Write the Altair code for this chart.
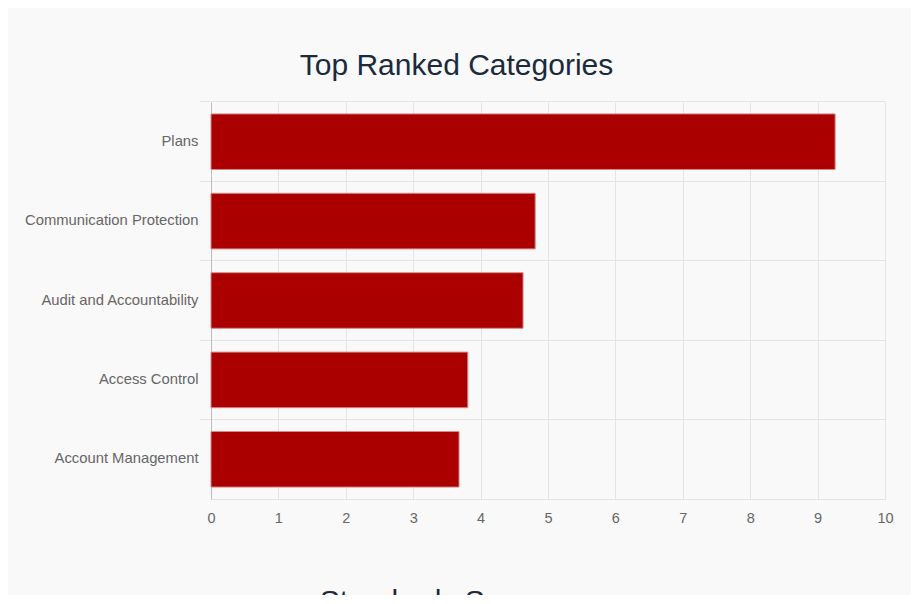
import altair as alt
import pandas as pd

categories = ["Plans", "Communication Protection", "Audit and Accountability", "Access Control", "Account Management"]
values = [9.26, 4.81, 4.63, 3.81, 3.68]
x_ticks = [0, 1, 2, 3, 4, 5, 6, 7, 8, 9, 10]
title_text = "Top Ranked Categories"
next_title = ["Standards Summary"]

df = pd.DataFrame({"category": categories, "value": values})
bg = "#f9f9f9"
grid = "#e4e4e4"
label_color = "#666666"
font = "Liberation Sans"

W, H = 674, 397
pad_inner, pad_outer = 0.3, 0.15
# place ticks/grid at the band boundaries (half the inner padding before each bar)
band_pos = -(pad_inner / 2) / (1 - pad_inner)

bars = alt.Chart(df).mark_bar(
    color="#aa0000", stroke="#d98888", strokeWidth=1
).encode(
    x=alt.X("value:Q", scale=alt.Scale(domain=[0, 10], nice=False),
            axis=alt.Axis(values=x_ticks, title=None, grid=True, gridColor=grid,
                          ticks=False, domainColor=grid, labelColor=label_color,
                          labelFont=font, labelFontSize=14.5, labelPadding=12,
                          labelFlush=False, format="d")),
    y=alt.Y("category:N", sort=categories,
            scale=alt.Scale(paddingInner=pad_inner, paddingOuter=pad_outer),
            axis=alt.Axis(title=None, bandPosition=band_pos, grid=True, gridColor=grid,
                          ticks=True, tickColor=grid, tickSize=12,
                          domainColor="#bdbdbd", labelColor=label_color,
                          labelFont=font, labelFontSize=14.8, labelPadding=1,
                          labelBaseline="middle", labelLimit=300)),
)

below = alt.Chart(pd.DataFrame({"t": next_title})).mark_text(
    font=font, fontSize=30, color="#1b2b3b", align="center", baseline="alphabetic"
).encode(
    x=alt.value(245.5), y=alt.value(509), text="t:N"
)

chart = alt.layer(bars, below).properties(
    width=W, height=H,
    title=alt.TitleParams(title_text, font=font, fontSize=30, fontWeight="normal",
                          color="#1b2b3b", anchor="middle", dx=-91.5,
                          baseline="alphabetic", offset=1, dy=5),
    autosize=alt.AutoSizeParams(type="none"),
    padding={"left": 203, "top": 94, "right": 26, "bottom": 96},
    background=bg,
).configure_view(stroke=None)

chart.save("out.html", embed_options={"renderer": "svg", "actions": False})
